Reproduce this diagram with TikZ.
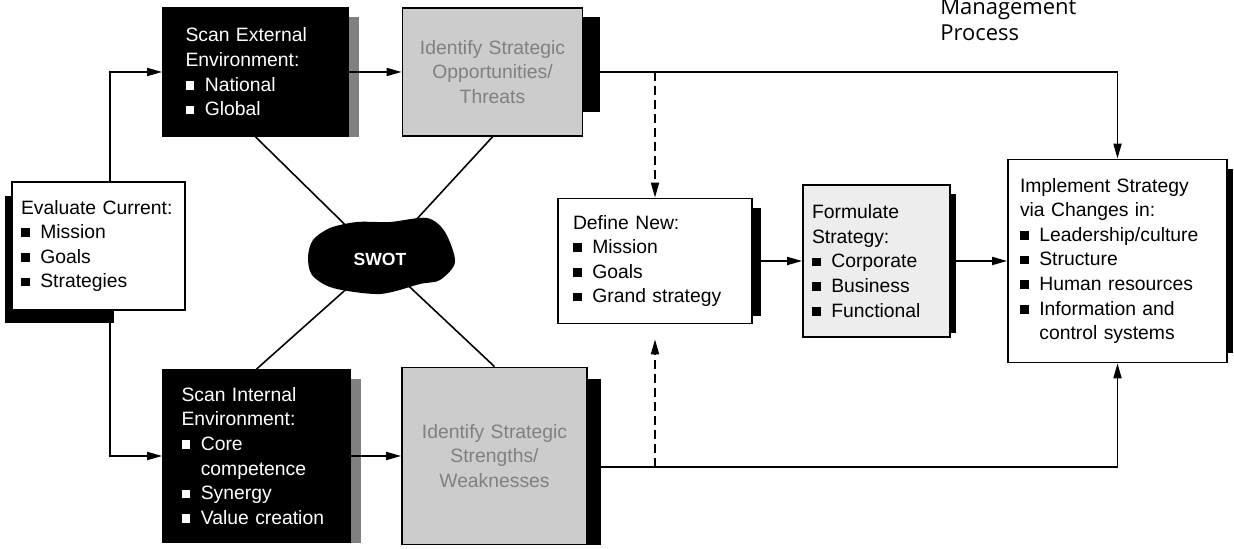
\documentclass[tikz,border=0pt]{standalone}
\usepackage{fontspec}
\setmainfont{Liberation Sans}
\newfontfamily\titlefont{Open Sans}
\usetikzlibrary{arrows.meta,backgrounds}
\newcommand{\sqbul}{\makebox[1em][l]{\rule[0.15ex]{0.45em}{0.45em}}}
\newcommand{\hangin}{\hspace*{1em}}
\tikzset{
  box/.style={draw, line width=1pt, align=left, inner xsep=0.2cm,
    font=\fontsize{11}{14}\selectfont},
  whitebox/.style={box, fill=white},
  darkbox/.style={box, fill=black, text=white, inner xsep=0.45cm},
  greybox/.style={box, fill=black!20, text=black!50, align=center},
  link/.style={line width=1pt, -{Triangle[length=3mm,width=1.6mm]}},
  hint/.style={link, dash pattern=on 5pt off 3pt},
  cross/.style={line width=0.9pt}
}

\begin{document}
\begin{tikzpicture}
  \useasboundingbox (0,0) rectangle (24.68,10.98);
  \node[whitebox, text width=3.1cm, inner xsep=0.18cm, minimum height=2.56cm] (eval) at (1.97,6.06)
    {Evaluate Current:\\\sqbul Mission\\\sqbul Goals\\\sqbul Strategies};
  \node[darkbox, text width=2.8cm, minimum height=2.56cm] (ext) at (5.11,9.54)
    {Scan External\\Environment:\\\sqbul National\\\sqbul Global};
  \node[darkbox, text width=3.0cm, inner xsep=0.37cm, minimum height=3.44cm] (int) at (5.13,1.86)
    {Scan Internal\\Environment:\\\sqbul Core\\\hangin competence\\\sqbul Synergy\\\sqbul Value creation};
  \node[greybox, text width=3.2cm, minimum height=2.56cm] (opp) at (9.85,9.54)
    {Identify Strategic\\Opportunities/\\Threats};
  \node[greybox, text width=3.3cm, minimum height=3.54cm] (str) at (9.89,1.86)
    {Identify Strategic\\Strengths/\\Weaknesses};
  \node[whitebox, text width=3.28cm, inner xsep=0.3cm, minimum height=2.5cm] (def) at (13.1,5.76)
    {Define New:\\\sqbul Mission\\\sqbul Goals\\\sqbul Grand strategy};
  \node[box, fill=black!7, text width=2.58cm, inner xsep=0.18cm, minimum height=3.04cm] (form) at (17.53,5.76)
    {Formulate\\Strategy:\\\sqbul Corporate\\\sqbul Business\\\sqbul Functional};
  \node[whitebox, text width=3.9cm, inner xsep=0.24cm, minimum height=4.06cm] (impl) at (22.35,5.76)
    {Implement Strategy\\via Changes in:\\\sqbul Leadership/culture\\\sqbul Structure\\\sqbul Human resources\\\sqbul Information and\\\hangin control systems};
  \node[text=white, font=\bfseries\fontsize{10}{12}\selectfont] (swot) at (7.6,5.8) {SWOT};
  \node[anchor=west, align=left, inner sep=0pt, font=\titlefont\fontsize{12.5}{15}\selectfont] (title) at (18.8,10.58)
    {Management\\Process};
  \coordinate (outlow) at ([yshift=-0.22cm]str.east);

  \begin{pgfonlayer}{background}
    \fill ([xshift=-0.12cm,yshift=-0.3cm]eval.north west) rectangle ([xshift=0.3cm,yshift=-0.24cm]eval.south);
    \fill[black!50] ([yshift=-0.2cm]ext.north east) rectangle ([xshift=0.2cm]ext.south east);
    \fill[black!50] ([yshift=-0.2cm]int.north east) rectangle ([xshift=0.2cm]int.south east);
    \fill ([yshift=-0.2cm]opp.north east) rectangle ([xshift=0.34cm,yshift=0.5cm]opp.south east);
    \fill ([yshift=-0.24cm]str.north east) rectangle ([xshift=0.26cm]str.south east);
    \fill ([yshift=-0.2cm]def.north east) rectangle ([xshift=0.16cm,yshift=0.16cm]def.south east);
    \fill ([yshift=-0.2cm]form.north east) rectangle ([xshift=0.1cm,yshift=0.1cm]form.south east);
    \fill ([yshift=-0.2cm]impl.north east) rectangle ([xshift=0.1cm,yshift=0.2cm]impl.south east);
    \draw[cross] (ext.south) -- (swot);
    \draw[cross] (opp.south) -- (swot);
    \draw[cross] (int.north) -- (swot);
    \draw[cross] (str.north) -- (swot);
    \fill[shift={(swot.center)}] plot[smooth cycle] coordinates {(-1.44,0.04) (-1.34,0.38) (-1.0,0.62) (-0.46,0.74) (0.2,0.74) (0.94,0.82) (1.3,0.54) (1.5,-0.06) (1.2,-0.42) (0.8,-0.5) (0.0,-0.7) (-0.94,-0.58) (-1.36,-0.32)};
  \end{pgfonlayer}

  \draw[link] ([xshift=0.23cm]eval.north) |- (ext.west);
  \draw[link] ([xshift=0.23cm]eval.south) |- (int.west);
  \draw[link] (ext) -- (opp);
  \draw[link] (int) -- (str);
  \draw[link] (opp.east) -| (impl.north);
  \draw[link] (outlow) -| (impl.south);
  \draw[hint] (def.north |- opp.east) -- (def.north);
  \draw[hint, shorten >=0.3cm] (def.south |- outlow) -- (def.south);
  \draw[link] (def) -- (form);
  \draw[link] (form) -- (impl);
\end{tikzpicture}
\end{document}
